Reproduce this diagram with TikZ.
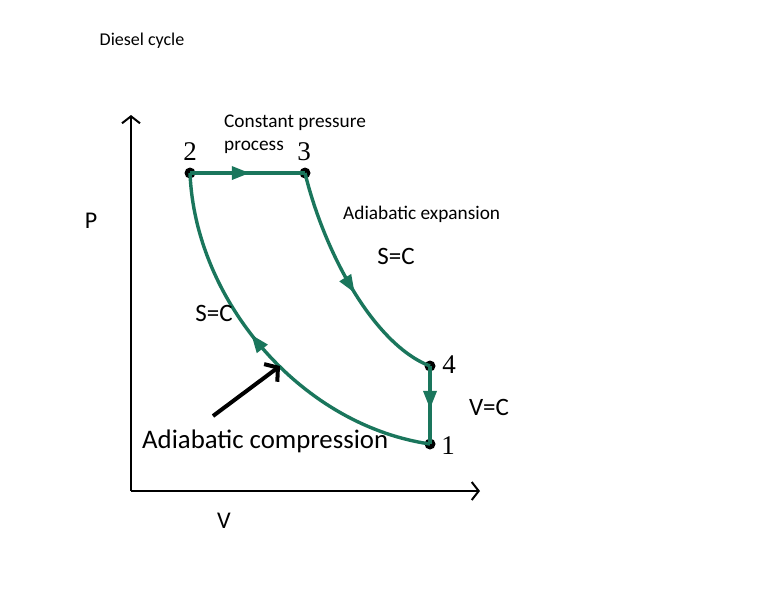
\documentclass[tikz,border=0pt]{standalone}
\usepackage{fontspec}
\setmainfont{Carlito}
\newfontfamily\numfont{Liberation Serif}
\usetikzlibrary{arrows.meta,decorations.markings}
\definecolor{cyc}{RGB}{26,118,92}
\tikzset{
  lbl/.style={inner sep=0pt, font=\fontsize{19.3}{21}\selectfont},
  num/.style={inner sep=0pt, font=\numfont\fontsize{27}{29}\selectfont},
  dot/.style={circle, fill=black, inner sep=0pt, minimum size=11pt},
  proc/.style={draw=cyc, line width=3.4pt},
  axis/.style={line width=2pt, -{Straight Barb[length=7pt,width=18pt,line width=2pt]}},
  midarrow/.style={postaction={decorate}, decoration={markings,
     mark=at position #1 with {\arrow[cyc]{Triangle[length=18pt,width=13pt]}}}}
}
\begin{document}
\begin{tikzpicture}[x=1pt,y=-1pt]
\useasboundingbox (0,0) rectangle (762,606);
\fill[white] (0,0) rectangle (762,606);
% axes
\coordinate (O) at (131,491);
\coordinate (ytop) at (131,115);
\coordinate (xend) at (480,491);
\draw[axis] (O) -- (ytop);
\draw[axis] (O) -- (xend);
% state points
\node[dot] (p2) at (190,173) {};
\node[dot] (p3) at (305,173) {};
\node[dot] (p4) at (430,366) {};
\node[dot] (p1) at (430,444) {};
% processes
\draw[proc, midarrow=0.52] (p2.center) -- (p3.center);
\draw[proc, midarrow=0.55] (p3.center) .. controls (325,255) and (375,345) .. (p4.center);
\draw[proc, midarrow=0.55] (p4.center) -- (p1.center);
\draw[proc, midarrow=0.55] (p1.center) .. controls (300,425) and (195,300) .. (p2.center);
% number labels
\node[num] (n2) at (190,152) {2};
\node[num] (n3) at (304,152) {3};
\node[num] (n4) at (449,365) {4};
\node[num] (n1) at (448,446) {1};
% texts
\node[lbl, font=\fontsize{18}{20}\selectfont] (title) at (142,41) {Diesel cycle};
\node[lbl, anchor=west] (cp1) at (224,123) {Constant pressure};
\node[lbl, anchor=west] (cp2) at (224,147) {process};
\node[lbl, anchor=west] (ae) at (343,214) {Adiabatic expansion};
\node[lbl, font=\fontsize{25}{27}\selectfont] (sc1) at (396,256) {S=C};
\node[lbl, font=\fontsize{25}{27}\selectfont] (sc2) at (214,313) {S=C};
\node[lbl, font=\fontsize{25}{27}\selectfont] (vc) at (489,407) {V=C};
\node[lbl, font=\fontsize{24}{26}\selectfont] (P) at (91,221) {P};
\node[lbl, font=\fontsize{24}{26}\selectfont] (V) at (224,521) {V};
\node[lbl, anchor=west, font=\fontsize{26.8}{28}\selectfont] (ac) at (142,441) {Adiabatic compression};
% pointer arrow
\coordinate (ptail) at (213,416);
\coordinate (phead) at (280,366);
\draw[line width=4pt, -{Straight Barb[length=9pt,width=22pt,line width=4pt]}] (ptail) -- (phead);
\end{tikzpicture}
\end{document}
